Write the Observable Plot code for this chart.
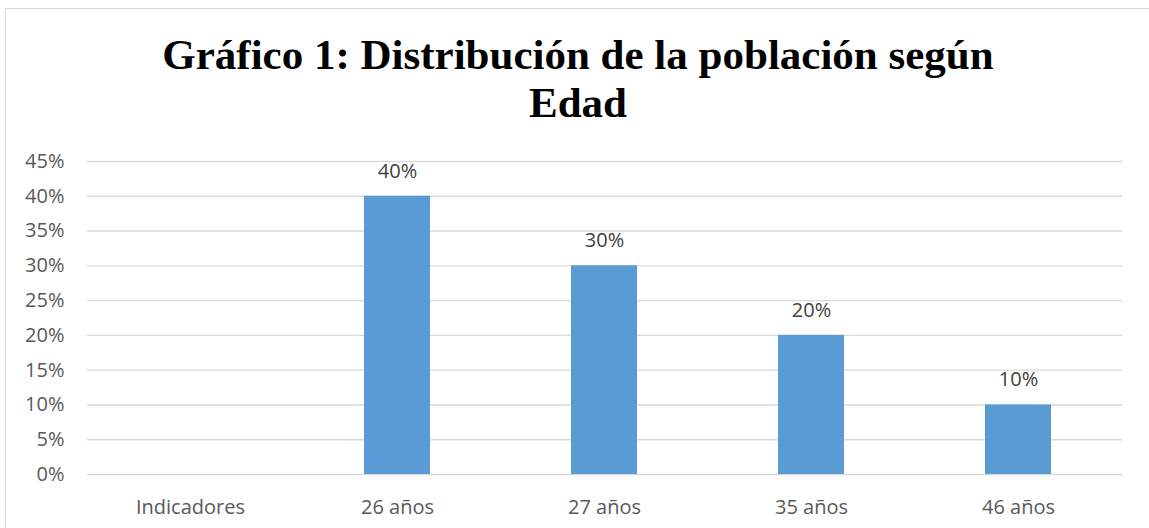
<!DOCTYPE html>
<html>
<head>
<meta charset="utf-8">
<script src="https://cdn.jsdelivr.net/npm/d3@7"></script>
<script src="https://cdn.jsdelivr.net/npm/@observablehq/plot@0.6"></script>
<style>
  html, body { margin: 0; padding: 0; background: #fff; }
  #frame { position: relative; width: 1149px; height: 528px; overflow: hidden; }
  #border { position: absolute; left: 5px; top: 8px; width: 1160px; height: 540px; border: 1.5px solid #d9d9d9; box-sizing: border-box; }
  #title { position: absolute; left: 0; top: 31px; width: 1156px; text-align: center;
    font-family: "Liberation Serif", "Times New Roman", serif; font-weight: bold; font-size: 43px; line-height: 48px; color: #000; }
  #chart { position: absolute; left: 0; top: 140px; }
</style>
</head>
<body>
<div id="frame">
  <div id="border"></div>
  <div id="title">Gráfico 1: Distribución de la población según<br>Edad</div>
  <div id="chart"></div>
</div>
<script>
const categories = ["Indicadores", "26 años", "27 años", "35 años", "46 años"];
const values = [null, 0.40, 0.30, 0.20, 0.10];
const yTicks = [0, 0.05, 0.10, 0.15, 0.20, 0.25, 0.30, 0.35, 0.40, 0.45];

const data = categories.map((c, i) => ({ category: c, value: values[i] }));
const fmt = d => Math.round(d * 100) + "%";

const chart = Plot.plot({
  width: 1149,
  height: 388,
  marginTop: 21,
  marginBottom: 54,
  marginLeft: 87,
  marginRight: 27,
  style: { fontFamily: "'Open Sans', sans-serif", fontSize: "20px", color: "#595959", background: "transparent" },
  x: { domain: categories, paddingInner: 0.68, paddingOuter: 0.34, label: null },
  y: { domain: [0, 0.45], label: null },
  marks: [
    Plot.gridY(yTicks, { stroke: "#d9d9d9", strokeOpacity: 1, strokeWidth: 1.4 }),
    Plot.axisY(yTicks, { tickSize: 0, tickPadding: 23, tickFormat: fmt, fill: "#595959", fontSize: 20, label: null }),
    Plot.axisX({ tickSize: 0, tickPadding: 25, fill: "#595959", fontSize: 20, label: null }),
    Plot.barY(data, { x: "category", y: "value", fill: "#5b9bd5" }),
    Plot.text(data, { x: "category", y: "value", text: d => d.value == null ? null : fmt(d.value), dy: -25, fill: "#404040", fontSize: 20 })
  ]
});
document.getElementById("chart").appendChild(chart);
</script>
</body>
</html>
